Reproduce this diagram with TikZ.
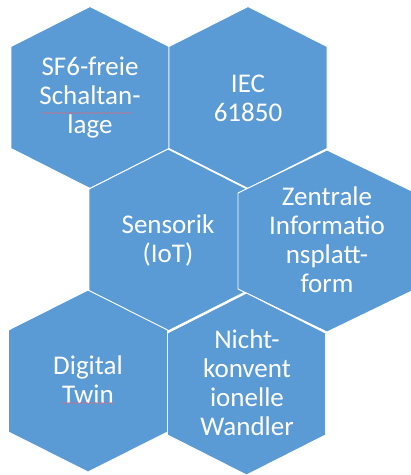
\documentclass[tikz,border=0pt]{standalone}
\usepackage{fontspec}
\setmainfont{Carlito}
\usetikzlibrary{decorations.pathmorphing}
\definecolor{cellblue}{RGB}{91,155,213}
\definecolor{spellred}{RGB}{205,110,135}
% hexagon cell: centre, half width, half side, cap height
\newcommand{\hexcell}[5]{%
  \draw[hexfill] (#1,#2-#4-#5) -- (#1+#3,#2-#4) -- (#1+#3,#2+#4) -- (#1,#2+#4+#5)
    -- (#1-#3,#2+#4) -- (#1-#3,#2-#4) -- cycle;}
\begin{document}
\begin{tikzpicture}[x=1pt,y=-1pt]
      \tikzset{hexfill/.style = {fill=cellblue, draw=white, line width=0.9pt, line join=miter}}
      \tikzset{hexlabel/.style = {text=white, align=center, inner sep=0pt,
        font=\fontsize{27}{29}\selectfont}}
      \tikzset{spellmark/.style = {draw=spellred, line width=0.6pt,
        decorate, decoration={snake, amplitude=0.5pt, segment length=3pt}}}
      \useasboundingbox (0,0) rectangle (411,475);

      \begin{scope}
      \clip (0,0) rectangle (411,475);
      \hexcell{90}{97.5}{79}{51}{40}
      \hexcell{248}{97.5}{79}{51}{40}
      \hexcell{168}{240}{79}{51}{40}
      \hexcell{327}{241}{89}{48}{43}
      \hexcell{88}{381}{79.5}{51}{40}
      \hexcell{246.5}{384}{79}{51}{40}
      \end{scope}

      \node[hexlabel] (sf6) at (90,98) {SF6-freie\\Schaltan-\\lage};
      \node[hexlabel] (iec) at (248,98) {IEC\\61850};
      \node[hexlabel] (iot) at (168,240) {Sensorik\\(IoT)};
      \node[hexlabel] (platform) at (327,240) {Zentrale\\Informatio\\nsplatt-\\form};
      \node[hexlabel] (twin) at (88,380) {Digital\\Twin};
      \node[hexlabel] (wandler) at (247,383) {Nicht-\\konvent\\ionelle\\Wandler};

      \draw[spellmark] (41,113) -- (131,113);
      \draw[spellmark] (62,403) -- (114,403);
\end{tikzpicture}
\end{document}
